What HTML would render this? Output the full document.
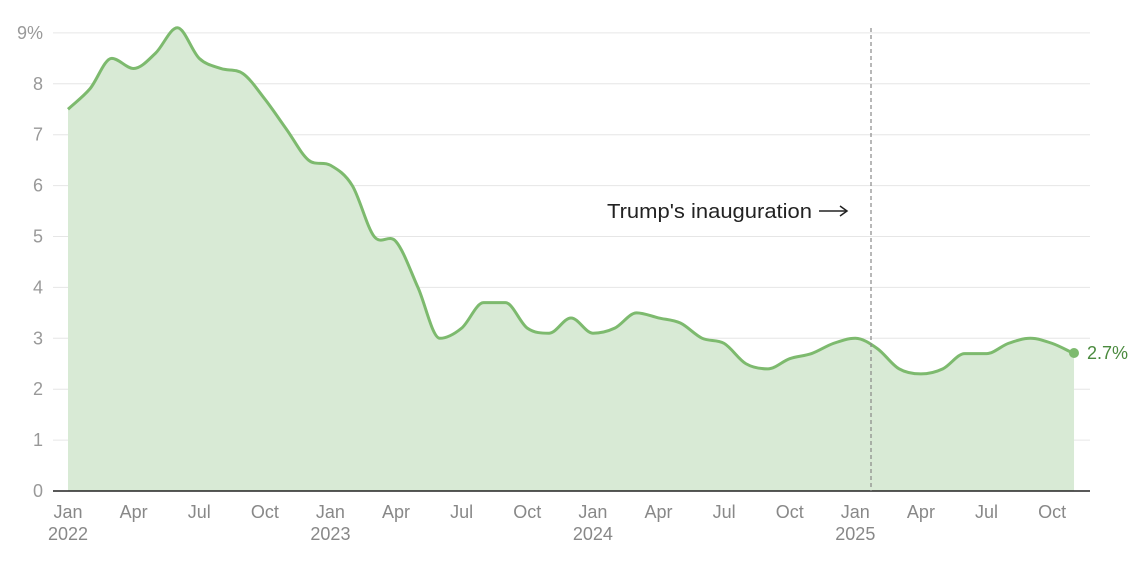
<!DOCTYPE html>
<html><head><meta charset="utf-8"><style>
html,body{margin:0;padding:0;background:#fff;}
svg text{font-family:"Liberation Sans",sans-serif;}
</style></head><body>
<svg id="c" width="1140" height="560" viewBox="0 0 1140 560" xmlns="http://www.w3.org/2000/svg">
<g id="grid" stroke="#e6e6e6" stroke-width="1"></g>
<g id="ylab" fill="#999" font-size="18" text-anchor="end"></g>
<path id="area" fill="#d8ead5"/>
<path id="line" fill="none" stroke="#7dba6e" stroke-width="3" stroke-linejoin="round"/>
<line x1="53" y1="491" x2="1090" y2="491" stroke="#222" stroke-width="1.5"/>
<line x1="871" y1="28" x2="871" y2="491" stroke="#888" stroke-width="1.2" stroke-dasharray="4,3"/>
<text x="607" y="218" font-size="20" fill="#222" textLength="205" lengthAdjust="spacingAndGlyphs">Trump's inauguration</text>
<line x1="819" y1="211" x2="846" y2="211" stroke="#222" stroke-width="1.5"/>
<path d="M840,206 L847,211 L840,216" fill="none" stroke="#222" stroke-width="1.5"/>
<circle cx="1074" cy="353" r="5" fill="#7dba6e"/>
<text x="1087" y="359" font-size="18" fill="#4a8a3e">2.7%</text>
<g id="xlab" fill="#888" font-size="18" text-anchor="middle"></g>
</svg>
<script>
var ns="http://www.w3.org/2000/svg";
function Y(v){return 491-v*50.9;}
function X(m){return 68+m*21.87;}
var g=document.getElementById('grid'),yl=document.getElementById('ylab');
for(var i=0;i<=9;i++){
 if(i>0){var l=document.createElementNS(ns,'line');l.setAttribute('x1',53);l.setAttribute('x2',1090);l.setAttribute('y1',Y(i));l.setAttribute('y2',Y(i));g.appendChild(l);}
 var t=document.createElementNS(ns,'text');t.setAttribute('x',43);t.setAttribute('y',Y(i)+6);t.textContent=i==9?'9%':i;yl.appendChild(t);
}
var d=[7.5,7.9,8.5,8.3,8.6,9.1,8.5,8.3,8.2,7.7,7.1,6.5,
6.4,6.0,5.0,4.9,4.0,3.0,3.2,3.7,3.7,3.2,3.1,3.4,
3.1,3.2,3.5,3.4,3.3,3.0,2.9,2.5,2.4,2.6,2.7,2.9,
3.0,2.8,2.4,2.3,2.4,2.7,2.7,2.9,3.0,2.9,2.7];
var p=d.map(function(v,i){return [X(i),Y(v)];});
var n=p.length,s=[],m=[];
for(i=0;i<n-1;i++)s.push((p[i+1][1]-p[i][1])/(p[i+1][0]-p[i][0]));
m[0]=s[0];m[n-1]=s[n-2];
for(i=1;i<n-1;i++){m[i]=(s[i-1]*s[i]<=0)?0:(s[i-1]+s[i])/2;}
var path='M'+p[0][0]+','+p[0][1];
for(i=0;i<n-1;i++){var h=p[i+1][0]-p[i][0];
 path+='C'+(p[i][0]+h/3)+','+(p[i][1]+m[i]*h/3)+' '+(p[i+1][0]-h/3)+','+(p[i+1][1]-m[i+1]*h/3)+' '+p[i+1][0]+','+p[i+1][1];}
document.getElementById('line').setAttribute('d',path);
document.getElementById('area').setAttribute('d',path+'L'+p[n-1][0]+',491L'+p[0][0]+',491Z');
var xl=document.getElementById('xlab'),names=['Jan','Apr','Jul','Oct'];
for(i=0;i<=45;i+=3){
 var t=document.createElementNS(ns,'text');t.setAttribute('x',X(i));t.setAttribute('y',518);t.textContent=names[(i/3)%4];xl.appendChild(t);
 if(i%12==0){var t2=document.createElementNS(ns,'text');t2.setAttribute('x',X(i));t2.setAttribute('y',540);t2.textContent=2022+i/12;xl.appendChild(t2);}
}
</script>
</body></html>
